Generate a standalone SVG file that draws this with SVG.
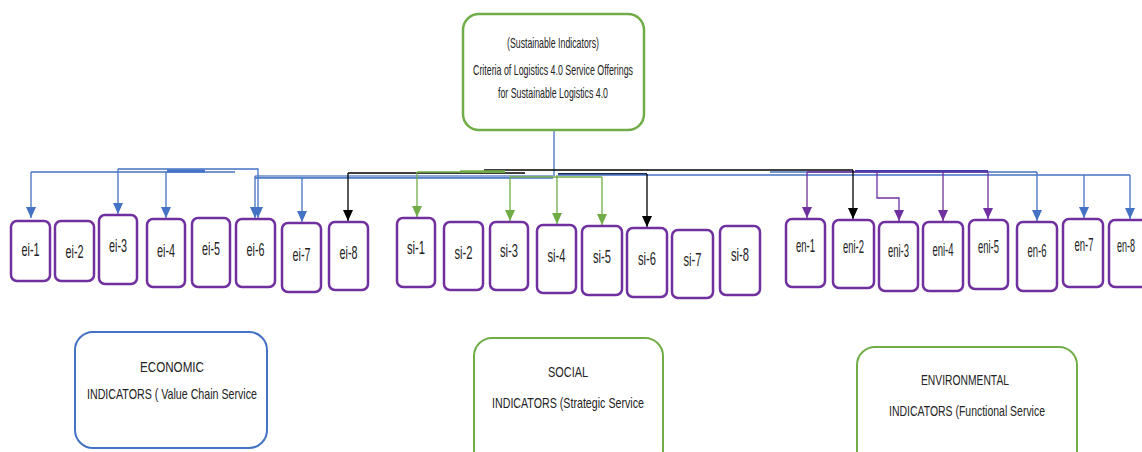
<svg xmlns="http://www.w3.org/2000/svg" width="1142" height="452" viewBox="0 0 1142 452">
<style>
.n rect{fill:#fff;stroke:#7030a0;stroke-width:2.5}
.n text{font-family:"Liberation Sans",Arial,sans-serif;font-size:19px;fill:#222;text-anchor:middle}
.big text{font-family:"Liberation Sans",Arial,sans-serif;font-size:15px;fill:#222;text-anchor:middle}
.c{fill:none;stroke-width:1.3}
.b{stroke:#4472c4}
.g{stroke:#70ad47}
.k{stroke:#000}
.p{stroke:#7030a0}
</style>
<defs>
<marker id="ab" markerUnits="userSpaceOnUse" markerWidth="10" markerHeight="12" viewBox="0 0 10 12" refX="5" refY="11"><path d="M0,0 L10,0 L5,11 Z" fill="#4472c4"/></marker>
<marker id="ag" markerUnits="userSpaceOnUse" markerWidth="10" markerHeight="12" viewBox="0 0 10 12" refX="5" refY="11"><path d="M0,0 L10,0 L5,11 Z" fill="#70ad47"/></marker>
<marker id="ak" markerUnits="userSpaceOnUse" markerWidth="10" markerHeight="12" viewBox="0 0 10 12" refX="5" refY="11"><path d="M0,0 L10,0 L5,11 Z" fill="#000"/></marker>
<marker id="ap" markerUnits="userSpaceOnUse" markerWidth="10" markerHeight="12" viewBox="0 0 10 12" refX="5" refY="11"><path d="M0,0 L10,0 L5,11 Z" fill="#7030a0"/></marker>
</defs>

<g id="connectors">
<path class="c b" d="M554,130 V176"/>
<path class="c b" d="M31,172 H235"/>
<path d="M167,171 H205" stroke="#4472c4" stroke-width="3"/>
<path d="M255,176.5 H553" stroke="#8eaadb" stroke-width="3"/>
<path class="c b" d="M255,178 H553"/>
<path class="c k" d="M348,173 H525"/>
<path class="c k" d="M484,170 H853"/>
<path class="c g" d="M417,172 H505"/>
<path d="M460,171.5 H505" stroke="#70ad47" stroke-width="2.5"/>
<path class="c g" d="M510,177 H602"/>
<path d="M558,174 H647" stroke="#1f2a4a" stroke-width="2"/>
<path class="c b" d="M558,175 H1130"/>
<path class="c b" d="M770,172 H1037"/>
<path class="c p" d="M807,172 H988"/>
<path d="M855,171 H988" stroke="#4a3aa8" stroke-width="2"/>

<path class="c b" d="M31,172 V218" marker-end="url(#ab)"/>
<path class="c b" d="M118,169 H258 V218" marker-end="url(#ab)"/>
<path class="c b" d="M118,169 V214" marker-end="url(#ab)"/>
<path class="c b" d="M166,172 V218" marker-end="url(#ab)"/>
<path class="c b" d="M255,176 V218" marker-end="url(#ab)"/>
<path class="c b" d="M302,178 V222" marker-end="url(#ab)"/>
<path class="c k" d="M348,173 V221" marker-end="url(#ak)"/>
<path class="c g" d="M417,172 V217" marker-end="url(#ag)"/>
<path class="c g" d="M510,177 V221" marker-end="url(#ag)"/>
<path class="c g" d="M557,175 V224" marker-end="url(#ag)"/>
<path class="c g" d="M602,177 V225" marker-end="url(#ag)"/>
<path class="c k" d="M647,174 V227" marker-end="url(#ak)"/>
<path class="c p" d="M807,172 V218" marker-end="url(#ap)"/>
<path class="c k" d="M853,170 V219" marker-end="url(#ak)"/>
<path class="c p" d="M877,172 V198 H899 V221" marker-end="url(#ap)"/>
<path class="c p" d="M943,172 V221" marker-end="url(#ap)"/>
<path class="c p" d="M988,172 V219" marker-end="url(#ap)"/>
<path class="c b" d="M1037,172 V221" marker-end="url(#ab)"/>
<path class="c b" d="M1084,175 V218" marker-end="url(#ab)"/>
<path class="c b" d="M1130,175 V219" marker-end="url(#ab)"/>
</g>

<g id="root" class="big">
<rect x="463" y="14" width="181" height="116" rx="16" fill="#fff" stroke="#70ad47" stroke-width="2.5"/>
<text x="553" y="48" textLength="92" lengthAdjust="spacingAndGlyphs">(Sustainable Indicators)</text>
<text x="553" y="75" textLength="160" lengthAdjust="spacingAndGlyphs">Criteria of Logistics 4.0 Service Offerings</text>
<text x="553" y="98" textLength="110" lengthAdjust="spacingAndGlyphs">for Sustainable Logistics 4.0</text>
</g>

<g id="ei-1" class="n"><rect x="11" y="221" width="39" height="60" rx="6"/><text x="30.5" y="256" textLength="18" lengthAdjust="spacingAndGlyphs">ei-1</text></g>
<g id="ei-2" class="n"><rect x="55" y="221" width="39" height="60" rx="6"/><text x="74.5" y="258" textLength="18" lengthAdjust="spacingAndGlyphs">ei-2</text></g>
<g id="ei-3" class="n"><rect x="99" y="215" width="38" height="69" rx="6"/><text x="118" y="252" textLength="18" lengthAdjust="spacingAndGlyphs">ei-3</text></g>
<g id="ei-4" class="n"><rect x="147" y="219" width="38" height="68" rx="6"/><text x="166" y="257" textLength="18" lengthAdjust="spacingAndGlyphs">ei-4</text></g>
<g id="ei-5" class="n"><rect x="192" y="218" width="38" height="69" rx="6"/><text x="211" y="255" textLength="18" lengthAdjust="spacingAndGlyphs">ei-5</text></g>
<g id="ei-6" class="n"><rect x="236" y="219" width="39" height="68" rx="6"/><text x="255.5" y="256" textLength="18" lengthAdjust="spacingAndGlyphs">ei-6</text></g>
<g id="ei-7" class="n"><rect x="282" y="223" width="39" height="69" rx="6"/><text x="301.5" y="261" textLength="18" lengthAdjust="spacingAndGlyphs">ei-7</text></g>
<g id="ei-8" class="n"><rect x="329" y="222" width="39" height="68" rx="6"/><text x="348.5" y="259" textLength="18" lengthAdjust="spacingAndGlyphs">ei-8</text></g>

<g id="si-1" class="n"><rect x="397" y="218" width="38" height="69" rx="6"/><text x="416" y="254" textLength="18" lengthAdjust="spacingAndGlyphs">si-1</text></g>
<g id="si-2" class="n"><rect x="444" y="222" width="39" height="68" rx="6"/><text x="463.5" y="259" textLength="18" lengthAdjust="spacingAndGlyphs">si-2</text></g>
<g id="si-3" class="n"><rect x="490" y="222" width="38" height="68" rx="6"/><text x="509" y="257" textLength="18" lengthAdjust="spacingAndGlyphs">si-3</text></g>
<g id="si-4" class="n"><rect x="537" y="225" width="39" height="68" rx="6"/><text x="556.5" y="262" textLength="18" lengthAdjust="spacingAndGlyphs">si-4</text></g>
<g id="si-5" class="n"><rect x="582" y="226" width="40" height="69" rx="6"/><text x="602" y="263" textLength="18" lengthAdjust="spacingAndGlyphs">si-5</text></g>
<g id="si-6" class="n"><rect x="627" y="228" width="40" height="69" rx="6"/><text x="647" y="265" textLength="18" lengthAdjust="spacingAndGlyphs">si-6</text></g>
<g id="si-7" class="n"><rect x="672" y="230" width="41" height="68" rx="6"/><text x="692.5" y="266" textLength="18" lengthAdjust="spacingAndGlyphs">si-7</text></g>
<g id="si-8" class="n"><rect x="720" y="226" width="40" height="69" rx="6"/><text x="740" y="261" textLength="18" lengthAdjust="spacingAndGlyphs">si-8</text></g>

<g id="en-1" class="n"><rect x="786" y="219" width="39" height="68" rx="6"/><text x="805.5" y="252" textLength="19" lengthAdjust="spacingAndGlyphs">en-1</text></g>
<g id="eni-2" class="n"><rect x="833" y="220" width="41" height="68" rx="6"/><text x="853.5" y="253" textLength="21" lengthAdjust="spacingAndGlyphs">eni-2</text></g>
<g id="eni-3" class="n"><rect x="879" y="222" width="39" height="69" rx="6"/><text x="898.5" y="257" textLength="21" lengthAdjust="spacingAndGlyphs">eni-3</text></g>
<g id="eni-4" class="n"><rect x="923" y="222" width="40" height="69" rx="6"/><text x="943" y="256" textLength="21" lengthAdjust="spacingAndGlyphs">eni-4</text></g>
<g id="eni-5" class="n"><rect x="969" y="220" width="39" height="69" rx="6"/><text x="988.5" y="253" textLength="21" lengthAdjust="spacingAndGlyphs">eni-5</text></g>
<g id="en-6" class="n"><rect x="1017" y="222" width="40" height="69" rx="6"/><text x="1037" y="257" textLength="19" lengthAdjust="spacingAndGlyphs">en-6</text></g>
<g id="en-7" class="n"><rect x="1063" y="219" width="40" height="68" rx="6"/><text x="1084" y="251" textLength="19" lengthAdjust="spacingAndGlyphs">en-7</text></g>
<g id="en-8" class="n"><rect x="1109" y="220" width="40" height="67" rx="6"/><text x="1126" y="252" textLength="18" lengthAdjust="spacingAndGlyphs">en-8</text></g>

<g id="economic" class="big">
<rect x="75" y="332" width="192" height="116" rx="18" fill="#fff" stroke="#4472c4" stroke-width="2"/>
<text x="172" y="372" font-size="18" textLength="64" lengthAdjust="spacingAndGlyphs">ECONOMIC</text>
<text x="172" y="399" font-size="18" textLength="170" lengthAdjust="spacingAndGlyphs">INDICATORS ( Value Chain  Service</text>
</g>
<g id="social" class="big">
<rect x="474" y="338" width="189" height="130" rx="18" fill="#fff" stroke="#70ad47" stroke-width="2"/>
<text x="568" y="377" font-size="18" textLength="40" lengthAdjust="spacingAndGlyphs">SOCIAL</text>
<text x="568" y="408" font-size="18" textLength="152" lengthAdjust="spacingAndGlyphs">INDICATORS (Strategic  Service</text>
</g>
<g id="environmental" class="big">
<rect x="857" y="347" width="220" height="130" rx="18" fill="#fff" stroke="#70ad47" stroke-width="2"/>
<text x="965" y="385" font-size="18" textLength="88" lengthAdjust="spacingAndGlyphs">ENVIRONMENTAL</text>
<text x="967" y="416" font-size="18" textLength="156" lengthAdjust="spacingAndGlyphs">INDICATORS (Functional Service</text>
</g>
</svg>
